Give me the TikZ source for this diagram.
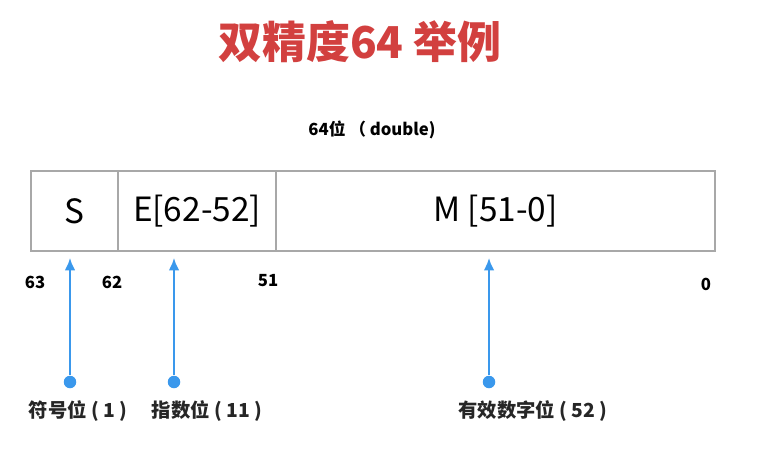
\documentclass[tikz,border=0pt]{standalone}
\usepackage{fontspec}
\setmainfont{Noto Sans CJK SC}
\usepackage{xcolor}
\usetikzlibrary{arrows,arrows.meta,positioning,calc}
\definecolor{titlered}{HTML}{D2403F}
\definecolor{pointblue}{HTML}{3A98EC}
\definecolor{fieldgray}{HTML}{A8A8A8}

\begin{document}
\begin{tikzpicture}[font=\small]
    \useasboundingbox (0,0) rectangle (15.68,9.2);
    \tikzset{
      field/.style={draw=fieldgray, line width=0.6pt, inner sep=0pt, outer sep=0pt,
        minimum height=1.6cm, font=\fontsize{19}{21}\selectfont},
      bitno/.style={font=\fontsize{9.5}{11}\selectfont\bfseries},
      dot/.style={circle, fill=pointblue, inner sep=0pt, minimum size=0.25cm},
      part/.style={font=\fontsize{11}{13}\selectfont\bfseries, text=black!85}
    }
    % ---- title
    \node[text=titlered, font=\fontsize{25}{28}\selectfont\bfseries] (title) at (7.2, 8.36) {双精度64 举例};
    \node[font=\fontsize{9.5}{11}\selectfont\bfseries] (width) at (7.44, 6.6) {64位 （ double)};
    % ---- the three fields
    \node[field, minimum width=1.74cm] (S) at (1.49, 4.98) {S};
    \node[field, minimum width=3.16cm] (E) at (3.94, 4.98) {E[62-52]};
    \node[field, minimum width=8.78cm] (M) at (9.91, 4.98) {M [51-0]};
    % ---- bit numbers
    \node[bitno] (b63) at (0.70, 3.56) {63};
    \node[bitno] (b62) at (2.24, 3.56) {62};
    \node[bitno] (b51) at (5.36, 3.58) {51};
    \node[bitno] (b0) at (14.12, 3.52) {0};
    % ---- pointers
    \coordinate (tS) at (1.40, 4.04);
    \coordinate (tE) at (3.48, 4.04);
    \coordinate (tM) at (9.78, 4.04);
    \node[dot] (dS) at (1.40, 1.56) {};
    \node[dot] (dE) at (3.48, 1.56) {};
    \node[dot] (dM) at (9.78, 1.56) {};
    \foreach \u/\v in {dS/tS,dE/tE,dM/tM} { \draw[pointblue, line width=1.1pt, -{Latex[length=7pt,width=6pt]}] (\u) -- (\v); }
    \node[part] (pS) at (1.56, 0.98) {符号位 ( 1 )};
    \node[part] (pE) at (4.14, 0.98) {指数位 ( 11 )};
    \node[part] (pM) at (10.66, 0.98) {有效数字位 ( 52 )};
  \end{tikzpicture}
\end{document}
